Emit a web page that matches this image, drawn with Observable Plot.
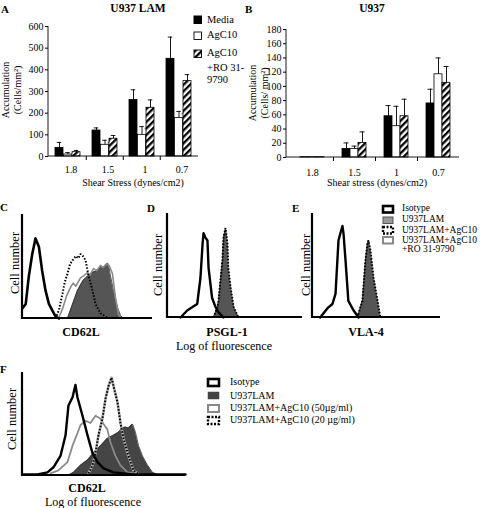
<!DOCTYPE html>
<html><head><meta charset="utf-8">
<script src="https://cdn.jsdelivr.net/npm/d3@7"></script>
<script src="https://cdn.jsdelivr.net/npm/@observablehq/plot@0.6"></script>
<style>
body{margin:0;background:#fff;}
#fig{position:relative;width:480px;height:508px;overflow:hidden;background:#fff;font-family:"Liberation Serif","Times New Roman",serif;color:#000;}
.t{position:absolute;white-space:nowrap;line-height:1;}
</style></head>
<body>
<svg width="0" height="0" style="position:absolute"><defs>
<pattern id="hatch" patternUnits="userSpaceOnUse" width="4.6" height="4.6" patternTransform="rotate(45)">
<rect width="4.6" height="4.6" fill="#fff"/><rect width="2.3" height="4.6" fill="#000"/></pattern></defs></svg>
<div id="fig"></div>
<script>
// ---------- DATA ----------
const groups = ["1.8", "1.5", "1", "0.7"];
// Panel A: U937 LAM
const ticksA = [0, 100, 200, 300, 400, 500, 600];
const mediaA = [40, 120, 261, 451];
const mediaAErr = [25, 12, 47, 100];
const agcA = [9, 54, 100, 178];
const agcAErr = [9, 21, 38, 30];
const roA = [20, 82, 225, 348];
const roAErr = [8, 15, 36, 30];
const starsA = ["*", "*", "*", "*"];
// Panel B: U937
const ticksB = [0, 20, 40, 60, 80, 100, 120, 140, 160, 180];
const mediaB = [0.4, 12, 58, 76];
const mediaBErr = [0, 8.5, 15, 20];
const agcB = [0.4, 12, 44, 117];
const agcBErr = [0, 4, 28, 23];
const roB = [0.4, 20.5, 58, 105];
const roBErr = [0, 15.5, 24, 23];
// Panels C-F: flow cytometry histograms [log fluorescence (0-100), cell number (0-100)]
const isoC = [[0,10],[2.5,14],[4.8,40],[7.5,62],[10,77],[12.6,69],[15.1,46],[17.7,27],[20.3,14],[22.8,8],[25.4,2],[28,0]];
const lamC = [[34.6,0],[38,12],[42.3,27],[44.5,32],[46.9,37],[49.5,40],[52.3,43],[55,45],[57.7,46],[60,50],[62.3,49],[64,52],[65.4,53],[66.5,50],[67.7,41],[70,27],[73,11],[75.4,3],[77.7,0]];
const agcC = [[25.4,0],[28,8],[30.8,24],[32.5,35],[34.6,43],[36.5,52],[38.5,56],[41,60],[43,58],[44.6,62],[46.5,60],[48.5,56],[50.8,41],[53.8,27],[56.2,14],[60,5],[66,0]];
const roC = [[27.7,0],[31,10],[34,22],[36.9,30],[39,34],[41,31],[44.6,39],[47,41],[50,44],[52,42],[54.6,48],[57,46],[60,51],[62,49],[65.4,53],[67,50],[69.2,43],[71.5,20],[73.8,4],[76,0]];
const isoD = [[9.6,0],[14.8,7],[18.5,10],[22,13],[24.4,38],[26,71],[26.7,81],[28,77],[29.6,74],[30.4,48],[33,19],[35.6,10],[37.8,5],[41.5,0]];
const lamD = [[34,0],[37,10],[37.8,16],[40.7,55],[41.5,77],[43,86],[44.4,71],[45,48],[46.7,29],[49,10],[52.6,0]];
const agcD = [[34,0],[37,10],[37.8,16],[40.7,55],[41.5,77],[43,86],[44.4,71],[45,48],[46.7,29],[49,10],[52.6,0]];
const isoE = [[6,0],[11.7,9],[15.6,13],[18,23],[20.3,74],[22,82],[23.4,88],[24.2,81],[25.8,55],[28,16],[32,7],[36,0]];
const lamE = [[35,0],[39,16],[41.4,55],[43,72],[43.8,74],[45.3,64],[47.7,38],[50.8,16],[53,0]];
const agcE = [[35,0],[39,16],[41.4,55],[43,72],[43.8,74],[45.3,64],[47.7,38],[50.8,16],[53,0]];
const isoF = [[0,1],[9.2,1],[15.3,3],[19,8],[23.3,19],[26.4,39],[28.2,68],[30.7,76],[32.5,88],[33.7,76],[36.8,58],[39.9,39],[42.9,22],[46,13],[49.7,7],[55.8,3],[68,1],[100,1]];
const lamF = [[27.6,0],[31.3,3],[35.6,10],[39.9,15],[43.6,22],[47.9,29],[52,36],[55.8,39],[58.9,42],[61.3,46],[63.2,47],[65,46],[67.5,50],[69.3,42],[71.2,29],[73.6,19],[76.7,10],[79.8,3],[82.8,1],[85,0]];
const agc50F = [[17.2,2],[22,5],[27.6,13],[30.7,29],[33.7,41],[35.6,49],[38.7,53],[41.7,51],[44.8,58],[47.9,55],[49.7,50],[52,45],[54,32],[57,19],[60,10],[64.4,3],[72.4,1]];
const agc20F = [[40.5,2],[43,10],[44.8,22],[46.6,39],[49,55],[51,75],[52.8,87],[54.6,95],[55.8,87],[58.3,71],[60.1,51],[62,36],[64.4,22],[66.3,13],[68,5],[70.6,2]];

// ---------- HELPERS ----------
const NS = "http://www.w3.org/2000/svg";
const FONT = '"Liberation Serif","Times New Roman",serif';
const fig = document.getElementById("fig");

function place(node, left, top) {
  node.style.position = "absolute";
  node.style.left = left + "px";
  node.style.top = top + "px";
  fig.append(node);
}
function txt(s, x, y, o = {}) {
  const d = document.createElement("div");
  d.className = "t";
  d.textContent = s;
  d.style.fontSize = (o.size || 10) + "px";
  if (o.bold) d.style.fontWeight = "bold";
  if (o.color) d.style.color = o.color;
  const a = o.anchor || "middle";
  let tf = `translate(${a === "start" ? "0" : a === "end" ? "-100%" : "-50%"},-50%)`;
  if (o.rotate) tf = "translate(-50%,-50%) rotate(-90deg)";
  d.style.left = x + "px";
  d.style.top = y + "px";
  d.style.transform = tf;
  fig.append(d);
}
function swatch(x, y, w, h, a) {
  const s = document.createElementNS(NS, "svg");
  s.setAttribute("width", w + 6); s.setAttribute("height", h + 6);
  const r = document.createElementNS(NS, "rect");
  r.setAttribute("x", 3); r.setAttribute("y", 3); r.setAttribute("width", w); r.setAttribute("height", h);
  r.setAttribute("fill", a.fill || "#fff");
  r.setAttribute("stroke", a.stroke || "none");
  r.setAttribute("stroke-width", a.sw || 1);
  if (a.dash) r.setAttribute("stroke-dasharray", a.dash);
  s.append(r);
  place(s, x - 3, y - 3);
}
// L-shaped axis lines (left + bottom edges of the frame)
const axisLines = (w) => (index, scales, values, dims) => {
  const p = document.createElementNS(NS, "path");
  const {marginLeft: l, marginTop: t, marginRight: r, marginBottom: b, width, height} = dims;
  p.setAttribute("d", `M${l},${t}V${height - b}H${width - r}`);
  p.setAttribute("fill", "none");
  p.setAttribute("stroke", "#000");
  p.setAttribute("stroke-width", w);
  return p;
};

function barPanel({left, top, width, height, margin, xInset = 0, yMax, ticks, series, barW, capW = 5, tickPad, labelDx = 0, stars}) {
  const bw = (width - margin.left - margin.right - xInset) / groups.length;
  const inset = (bw - barW) / 2;
  const marks = [];
  series.forEach((s, i) => {
    const rows = groups.map((g, j) => ({group: g, value: s.values[j], err: s.errs[j]}));
    const off = (i - 1) * barW;
    marks.push(Plot.barY(rows, {x: "group", y: "value", fill: s.fill, stroke: "#000", strokeWidth: 0.8,
      insetLeft: inset + off, insetRight: inset - off}));
    const er = rows.filter(d => d.err > 0);
    marks.push(Plot.ruleX(er, {x: "group", y1: "value", y2: d => d.value + d.err, dx: off, stroke: "#000", strokeWidth: 0.9}));
    marks.push(Plot.tickY(er, {x: "group", y: d => d.value + d.err, stroke: "#000", strokeWidth: 0.9,
      insetLeft: (bw - capW) / 2 + off, insetRight: (bw - capW) / 2 - off}));
    if (stars && s.stars) {
      marks.push(Plot.text(rows.map((d, j) => ({...d, star: s.stars[j]})), {x: "group", y: d => d.value + d.err, text: "star",
        dx: off + 4, dy: 4, fontSize: 9, fill: "#777"}));
    }
  });
  const svg = Plot.plot({
    width, height,
    marginLeft: margin.left, marginRight: margin.right, marginTop: margin.top, marginBottom: margin.bottom,
    style: {fontFamily: FONT, fontSize: "10px", background: "transparent", overflow: "visible"},
    x: {domain: groups, padding: 0, insetLeft: xInset},
    y: {domain: [0, yMax]},
    marks: [
      ...marks,
      axisLines(0.9),
      Plot.axisY(ticks, {tickSize: 3, tickPadding: 2, label: null, fontSize: 10}),
      Plot.axisX({tickSize: 0, tickPadding: tickPad, label: null, fontSize: 10, dx: labelDx}),
      Plot.axisX(groups.slice(1), {tickSize: 4, tickFormat: () => "", label: null, dx: -bw / 2})
    ]
  });
  place(svg, left, top);
}

function histPanel({left, top, width, height, margin, layers}) {
  const svg = Plot.plot({
    width, height,
    marginLeft: margin.left, marginRight: margin.right, marginTop: margin.top, marginBottom: margin.bottom,
    style: {background: "transparent", overflow: "visible"},
    x: {domain: [0, 100], axis: null},
    y: {domain: [0, 100], axis: null},
    marks: [...layers, axisLines(2.2)]
  });
  place(svg, left, top);
}
const fillArea = (data, color) => [
  Plot.areaY(data, {x: d => d[0], y: d => d[1], fill: color}),
  Plot.line(data, {x: d => d[0], y: d => d[1], stroke: "#333", strokeWidth: 0.8})
];
const isoLine = (data, w = 2.4) => Plot.line(data, {x: d => d[0], y: d => d[1], stroke: "#000", strokeWidth: w, strokeLinejoin: "round"});
const dotLine = (data, under) => [
  ...(under ? [Plot.line(data, {x: d => d[0], y: d => d[1], stroke: "#aaa", strokeWidth: 2.6})] : []),
  Plot.line(data, {x: d => d[0], y: d => d[1], stroke: "#000", strokeWidth: 2, strokeDasharray: "1.5 1.7", strokeLinecap: "butt", strokeLinejoin: "miter"})
];
const grayLine = (data, w = 1.6) => Plot.line(data, {x: d => d[0], y: d => d[1], stroke: "#8a8a8a", strokeWidth: w});

// ---------- PANEL A ----------
barPanel({left: 0, top: 0, width: 200, height: 200, margin: {left: 48, right: 2, top: 26, bottom: 44},
  yMax: 600, ticks: ticksA, barW: 8.5, tickPad: 9, labelDx: 3, stars: true,
  series: [
    {values: mediaA, errs: mediaAErr, fill: "#000"},
    {values: agcA, errs: agcAErr, fill: "#fff", stars: starsA},
    {values: roA, errs: roAErr, fill: "url(#hatch)"}
  ]});
txt("A", 1, 9, {bold: true, size: 11, anchor: "start"});
txt("U937 LAM", 138, 9, {bold: true, size: 11.5});
txt("Accumulation", 6, 90, {rotate: true, size: 10});
txt("(Cells/mm²)", 18, 90, {rotate: true, size: 10});
txt("Shear Stress (dynes/cm2)", 133, 183, {size: 10});
swatch(194, 16, 7.5, 7.5, {fill: "#000", stroke: "#000"});
swatch(194, 31.5, 7.5, 7.5, {fill: "#fff", stroke: "#000", sw: 0.9});
swatch(194, 49.5, 7.5, 7.5, {fill: "url(#hatch)", stroke: "#000", sw: 0.9});
txt("Media", 207, 20, {anchor: "start", size: 10.5});
txt("AgC10", 207, 35, {anchor: "start", size: 10.5});
txt("AgC10", 207, 53, {anchor: "start", size: 10.5});
txt("+RO 31-", 207, 67.5, {anchor: "start", size: 10.5});
txt("9790", 207, 80, {anchor: "start", size: 10.5});

// ---------- PANEL B ----------
barPanel({left: 240, top: 0, width: 240, height: 200, margin: {left: 46, right: 21, top: 29, bottom: 43}, xInset: 5,
  yMax: 180, ticks: ticksB, barW: 8, tickPad: 11, labelDx: 0,
  series: [
    {values: mediaB, errs: mediaBErr, fill: "#000"},
    {values: agcB, errs: agcBErr, fill: "#fff"},
    {values: roB, errs: roBErr, fill: "url(#hatch)"}
  ]});
txt("B", 245, 9, {bold: true, size: 11, anchor: "start"});
txt("U937", 372, 9, {bold: true, size: 11.5});
txt("Accumulation", 253, 93, {rotate: true, size: 10});
txt("(Cells/ mm²)", 265, 93, {rotate: true, size: 10});
txt("Shear stress (dynes/cm2)", 377, 183, {size: 10});

// ---------- PANELS C, D, E ----------
histPanel({left: 0, top: 200, width: 160, height: 125, margin: {left: 22, right: 8, top: 14, bottom: 7},
  layers: [...fillArea(lamC, "#555"), grayLine(roC), ...dotLine(agcC), isoLine(isoC, 2.6)]});
histPanel({left: 150, top: 200, width: 160, height: 125, margin: {left: 17, right: 8, top: 13, bottom: 8},
  layers: [...fillArea(lamD, "#555"), ...dotLine(agcD), isoLine(isoD, 2.4)]});
histPanel({left: 300, top: 200, width: 145, height: 125, margin: {left: 12, right: 5, top: 13, bottom: 8},
  layers: [...fillArea(lamE, "#555"), ...dotLine(agcE), isoLine(isoE, 2.4)]});
txt("C", 0, 207, {bold: true, size: 11, anchor: "start"});
txt("D", 147, 208, {bold: true, size: 11, anchor: "start"});
txt("E", 292, 208, {bold: true, size: 11, anchor: "start"});
txt("Cell number", 15, 263, {rotate: true, size: 12.5});
txt("Cell number", 158, 265, {rotate: true, size: 12.5});
txt("Cell number", 306, 265, {rotate: true, size: 12.5});
txt("CD62L", 81, 332, {bold: true, size: 12});
txt("PSGL-1", 227, 332, {bold: true, size: 12});
txt("VLA-4", 366, 332, {bold: true, size: 12});
txt("Log of fluorescence", 224, 346, {size: 12});
swatch(383, 206, 10, 6.5, {fill: "#fff", stroke: "#000", sw: 2.6});
swatch(383, 217, 10, 6.5, {fill: "#999", stroke: "#555", sw: 1});
swatch(383, 227, 10, 6.5, {fill: "#fff", stroke: "#000", sw: 2.4, dash: "2 1.5"});
swatch(383, 237, 10, 6.5, {fill: "#fff", stroke: "#888", sw: 2});
txt("Isotype", 402, 209, {anchor: "start", size: 9.5});
txt("U937LAM", 402, 220, {anchor: "start", size: 9.5});
txt("U937LAM+AgC10", 402, 230.5, {anchor: "start", size: 9.5});
txt("U937LAM+AgC10", 402, 240.5, {anchor: "start", size: 9.5});
txt("+RO 31-9790", 402, 250, {anchor: "start", size: 9.5});

// ---------- PANEL F ----------
histPanel({left: 0, top: 365, width: 200, height: 115, margin: {left: 22, right: 15, top: 7, bottom: 5},
  layers: [...fillArea(lamF, "#454545"), grayLine(agc50F, 1.8), ...dotLine(agc20F, true), isoLine(isoF, 2.4)]});
txt("F", 0, 369, {bold: true, size: 11, anchor: "start"});
txt("Cell number", 12, 419, {rotate: true, size: 12.5});
txt("CD62L", 87, 488, {bold: true, size: 12});
txt("Log of fluorescence", 93, 502, {size: 12});
swatch(208, 378.5, 11, 7, {fill: "#fff", stroke: "#000", sw: 2.6});
swatch(208, 392, 11, 7, {fill: "#444", stroke: "#444", sw: 0.5});
swatch(208, 404.5, 11, 7, {fill: "#fff", stroke: "#888", sw: 2});
swatch(208, 416.5, 11, 7, {fill: "#fff", stroke: "#000", sw: 2.4, dash: "2 1.5"});
txt("Isotype", 230, 382, {anchor: "start", size: 10});
txt("U937LAM", 230, 395.5, {anchor: "start", size: 10});
txt("U937LAM+AgC10 (50µg/ml)", 230, 408, {anchor: "start", size: 10});
txt("U937LAM+AgC10 (20 µg/ml)", 230, 420, {anchor: "start", size: 10});
</script>
</body></html>
